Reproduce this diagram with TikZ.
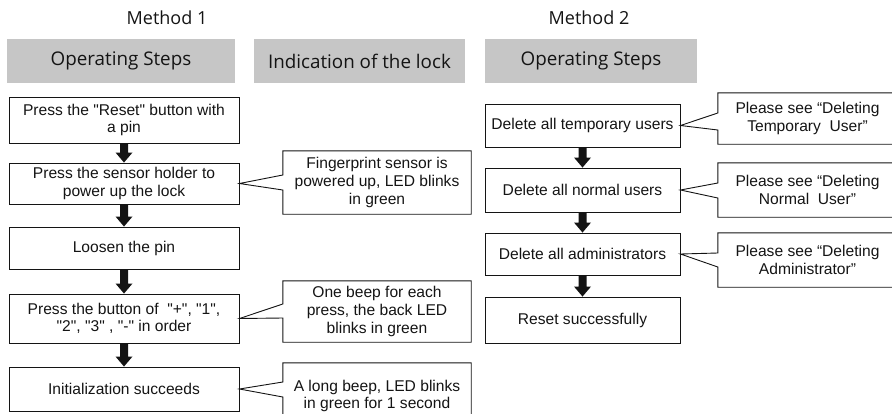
\documentclass[tikz,border=0pt]{standalone}
\usepackage{fontspec}
\setmainfont{Liberation Sans}[Ligatures=TeXOff]
\newfontfamily\hdrfont{Open Sans}
\usetikzlibrary{calc}
\definecolor{hdrgray}{RGB}{198,198,198}
\definecolor{ink}{RGB}{20,20,20}
\newcommand\thickarrow[2]{%
  \fill[ink] ($(#1.south)+(-4,0)$) -- ($(#2.north)+(-4,-10)$) -- ($(#2.north)+(-8.5,-10)$) -- (#2.north)
    -- ($(#2.north)+(8.5,-10)$) -- ($(#2.north)+(4,-10)$) -- ($(#1.south)+(4,0)$) -- cycle;}
\begin{document}
\begin{tikzpicture}[x=1pt,y=-1pt,
  boxtxt/.style={font=\fontsize{15.6}{17.6}\selectfont, text=ink, align=center, inner sep=0pt},
  stepbox/.style={boxtxt, draw=ink, line width=0.9pt, minimum width=#1},
  lbox/.style={stepbox=230pt},
  rbox/.style={stepbox=195pt},
  callout/.style={boxtxt, minimum width=#1},
  co/.style={draw=ink, line width=0.9pt, line join=miter},
  hdr/.style={fill=hdrgray, minimum height=44pt, inner sep=0pt, font=\hdrfont\fontsize{18.8}{21}\selectfont, text=ink},
  mtitle/.style={font=\hdrfont\fontsize{18}{20}\selectfont, text=ink, inner sep=0pt}]
\useasboundingbox (0,0) rectangle (892,413);
\clip (0,0) rectangle (892,413);

% titles
\node[mtitle] (m1) at (167,18) {Method 1};
\node[mtitle] (m2) at (589,18) {Method 2};

% headers
\node[hdr, minimum width=228pt] (h1) at (121,61) {Operating Steps};
\node[hdr, minimum width=211pt] (h2) at (359.5,61) {Indication of the lock};
\node[hdr, minimum width=212pt] (h3) at (591,61) {Operating Steps};

% left steps
\node[lbox, minimum height=46pt] (b1) at (124,120) {Press the "Reset" button with\\a pin};
\node[lbox, minimum height=41pt] (b2) at (124,183.5) {Press the sensor holder to\\power up the lock};
\node[lbox, minimum height=42pt] (b3) at (124,248) {Loosen the pin};
\node[lbox, minimum height=49pt] (b4) at (124,318.5) {Press the button of~ "+", "1",\\"2", "3" , "-" in order};
\node[lbox, minimum height=44pt] (b5) at (124,389) {Initialization succeeds};

\thickarrow{b1}{b2}
\thickarrow{b2}{b3}
\thickarrow{b3}{b4}
\thickarrow{b4}{b5}

% left callouts
\node[callout=188pt, minimum height=63pt] (c1) at (377,182.5) {Fingerprint sensor is\\powered up, LED blinks\\in green};
\node[callout=188pt, minimum height=61pt] (c2) at (377,311.5) {One beep for each\\press, the back LED\\blinks in green};
\node[callout=188pt, minimum height=66pt] (c3) at (377,396) {A long beep, LED blinks\\in green for 1 second};

\draw[co] (c1.north west) -- (c1.north east) -- (c1.south east) -- (c1.south west)
  -- (c1.west |- 0,190) -- (b2.east) -- (c1.west |- 0,175) -- cycle;
\draw[co] (c2.north west) -- (c2.north east) -- (c2.south east) -- (c2.south west)
  -- (c2.west |- 0,318) -- (b4.east) -- (c2.west |- 0,304) -- cycle;
\draw[co] (c3.north west) -- (c3.north east) -- (c3.south east) -- (c3.south west)
  -- (c3.west |- 0,397) -- (b5.east) -- (c3.west |- 0,382) -- cycle;

% right steps
\node[rbox, minimum height=43pt] (r1) at (582.5,125.5) {Delete all temporary users};
\node[rbox, minimum height=44pt] (r2) at (582.5,190) {Delete all normal users};
\node[rbox, minimum height=42pt] (r3) at (582.5,254) {Delete all administrators};
\node[rbox, minimum height=46pt] (r4) at (582.5,320) {Reset successfully};

\thickarrow{r1}{r2}
\thickarrow{r2}{r3}
\thickarrow{r3}{r4}

% right callouts
\node[callout=179pt, minimum height=51pt] (d1) at (807.5,118.5) {Please see “Deleting\\Temporary~ User”};
\node[callout=179pt, minimum height=54pt] (d2) at (807.5,190) {Please see “Deleting\\Normal~ User”};
\node[callout=179pt, minimum height=54pt] (d3) at (807.5,260) {Please see “Deleting\\Administrator”};

\draw[co] (d1.north west) -- (d1.north east) -- (d1.south east) -- (d1.south west)
  -- (d1.west |- 0,130) -- (r1.east) -- (d1.west |- 0,113) -- cycle;
\draw[co] (d2.north west) -- (d2.north east) -- (d2.south east) -- (d2.south west)
  -- (d2.west |- 0,198) -- (r2.east) -- (d2.west |- 0,183) -- cycle;
\draw[co] (d3.north west) -- (d3.north east) -- (d3.south east) -- (d3.south west)
  -- (d3.west |- 0,267) -- (r3.east) -- (d3.west |- 0,253) -- cycle;
\end{tikzpicture}
\end{document}
